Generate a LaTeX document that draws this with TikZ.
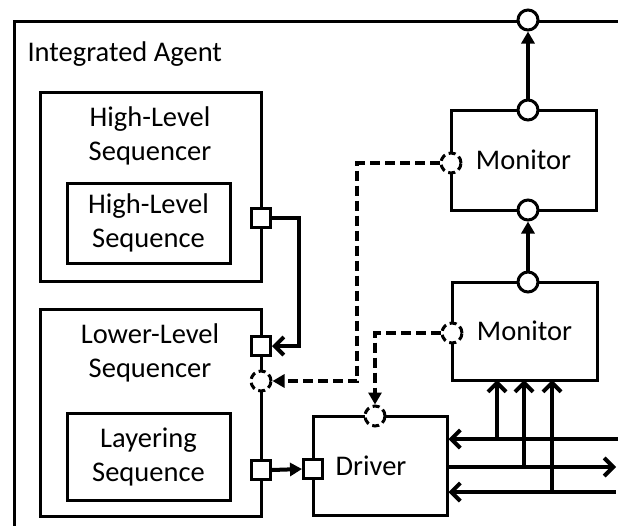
\documentclass[tikz,border=0pt]{standalone}
\usepackage{fontspec}
\setmainfont{Carlito}
\usetikzlibrary{arrows.meta, positioning, calc}

\tikzset{
    blk/.style={draw, line width=3pt, rectangle, inner sep=0pt, align=center},
    lbl/.style={align=center},
    port/.style={draw, fill=white, circle, line width=3pt, minimum size=20pt, inner sep=0pt},
    dport/.style={port, dash pattern=on 7pt off 4pt},
    sqport/.style={draw, fill=white, rectangle, line width=3pt, minimum size=19pt, inner sep=0pt},
    flow/.style={line width=4pt, -{Triangle[length=12pt, width=13pt]}},
    ctl/.style={flow, dash pattern=on 10pt off 5pt},
    bus/.style={line width=4pt, -{Straight Barb[length=9pt, width=18pt]}},
}

\begin{document}
\begin{tikzpicture}[
    x=1pt, y=-1pt,
    every node/.style={font=\fontsize{28.5}{34}\selectfont}
]
\useasboundingbox (0,0) rectangle (618,525);
\clip (0,0) rectangle (618,525);

% outer agent
\node[blk, anchor=north west, minimum width=660pt, minimum height=560pt] (agent) at (13,20) {};
\node[anchor=base west] (agenttxt) at (24,61) {Integrated Agent};

% sequencers
\node[blk, minimum width=221pt, minimum height=189pt] (hls) at (150.5,186.5) {};
\node[lbl] (hlstxt) at (150,136) {High-Level\\Sequencer};
\node[blk, minimum width=163pt, minimum height=80pt] (hlseq) at (148.5,223) {High-Level\\Sequence};

\node[blk, minimum width=221pt, minimum height=207pt] (lls) at (150.5,412.5) {};
\node[lbl] (llstxt) at (150,353) {Lower-Level\\Sequencer};
\node[blk, minimum width=163pt, minimum height=87pt] (layseq) at (148.5,456.5) {Layering\\Sequence};

% driver and monitors
\node[blk, minimum width=134pt, minimum height=99pt] (drv) at (380,465.5) {};
\node[anchor=base] (drvtxt) at (371,475) {Driver};
\node[blk, minimum width=145pt, minimum height=100pt] (mon1) at (523.5,160) {Monitor};
\node[blk, minimum width=145pt, minimum height=98pt] (mon2) at (524.5,331) {Monitor};

% ports
\node[port] (pout) at (528,20) {};
\node[port] (m1t) at (528,110) {};
\node[port] (m1b) at (528,210) {};
\node[dport] (m1d) at (451,163) {};
\node[port] (m2t) at (528,282) {};
\node[dport] (m2d) at (452,333) {};
\node[sqport] (hsq) at (261,218) {};
\node[sqport] (lsqin) at (261,346) {};
\node[dport] (ldc) at (261,381) {};
\node[sqport] (lsqout) at (261,470) {};
\node[dport] (ddc) at (375,416) {};
\node[sqport] (dsq) at (313,469) {};

% bends and bus ends
\coordinate (hbend) at (299,218);
\coordinate (cbend) at (357,163);
\coordinate (b1) at (640,439);
\coordinate (b2) at (616,467);
\coordinate (b3) at (616,492);
\coordinate (v1) at (497,380);
\coordinate (v2) at (524,380);
\coordinate (v3) at (552,380);

% connections
\draw[flow] (m1t) -- (pout);
\draw[flow] (m2t) -- (m1b);
\draw[bus] (hsq.east) -- (hbend) |- (lsqin.east);
\draw[ctl] (m1d.west) -- (cbend) |- (ldc.east);
\draw[ctl] (m2d.west) -| (ddc.north);
\draw[flow] (lsqout.east) -- (dsq.west);
\draw[bus] (b1) -- (b1 -| drv.east);
\draw[bus] (b2 -| drv.east) -- (b2);
\draw[bus, {Straight Barb[length=9pt, width=18pt]}-] (b3 -| drv.east) -- (b3);
\foreach \v/\b in {v1/b1, v2/b2, v3/b3}
    \draw[bus] (\v |- \b) -- (\v);
\end{tikzpicture}
\end{document}
